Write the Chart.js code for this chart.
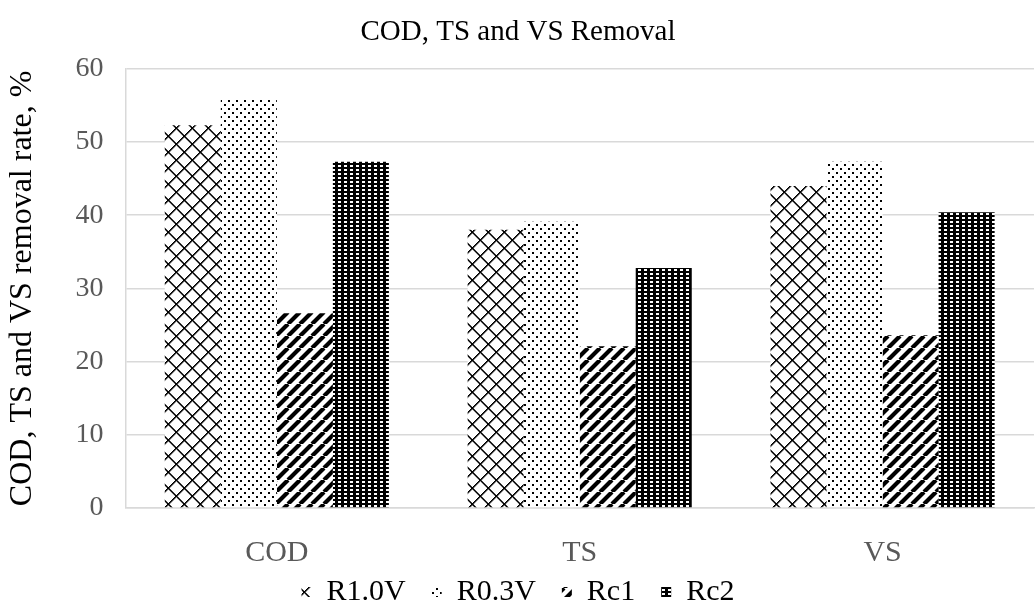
<!DOCTYPE html>
<html>
<head>
<meta charset="utf-8">
<script src="https://cdn.jsdelivr.net/npm/chart.js@4/dist/chart.umd.min.js"></script>
<style>
  html, body { margin: 0; padding: 0; background: #ffffff; }
  #wrap { width: 1035px; height: 611px; }
</style>
</head>
<body>
<div id="wrap"><canvas id="chart" width="1035" height="611"></canvas></div>
<script>
// Removal rates (%) for each reactor, by parameter
const categories = ['COD', 'TS', 'VS'];
const seriesNames = ['R1.0V', 'R0.3V', 'Rc1', 'Rc2'];
const r10v = [52.3, 38.0, 44.0];
const r03v = [56.0, 39.1, 47.3];
const rc1 = [26.6, 22.1, 23.6];
const rc2 = [47.3, 32.8, 40.4];
const yTicks = [0, 10, 20, 30, 40, 50, 60];

// Monochrome fill patterns
function tile(w, h, draw) {
  const c = document.createElement('canvas');
  c.width = w; c.height = h;
  const g = c.getContext('2d');
  draw(g, w, h);
  return g.createPattern(c, 'repeat');
}

const diamondFill = tile(16, 16, (g, w, h) => {
  g.fillStyle = '#fff'; g.fillRect(0, 0, w, h);
  g.fillStyle = '#000';
  for (let i = 0; i < 16; i++) {
    g.fillRect(i, i, 1.7, 1.4);
    g.fillRect(15 - i, i, 1.7, 1.4);
  }
});

const dotFill = tile(8, 8, (g, w, h) => {
  g.fillStyle = '#fff'; g.fillRect(0, 0, w, h);
  g.fillStyle = '#000';
  g.fillRect(0, 0, 2, 2);
  g.fillRect(4, 4, 2, 2);
});

const stripeFill = tile(12, 12, (g, w, h) => {
  g.fillStyle = '#fff'; g.fillRect(0, 0, w, h);
  g.strokeStyle = '#000';
  g.lineWidth = 4.2;
  g.beginPath();
  g.moveTo(-12, 12); g.lineTo(0, 0);
  g.moveTo(0, 12); g.lineTo(12, 0);
  g.moveTo(12, 12); g.lineTo(24, 0);
  g.stroke();
});

const gridFill = tile(6, 4, (g, w, h) => {
  g.fillStyle = '#000'; g.fillRect(0, 0, w, h);
  g.fillStyle = '#fff';
  g.fillRect(2, 1, 3, 2);
});

const fills = [diamondFill, dotFill, stripeFill, gridFill];
const values = [r10v, r03v, rc1, rc2];

const serif = "'Liberation Serif', 'Times New Roman', serif";

// Let the category labels run into the space beside the legend without being clipped
const labelRoom = {
  id: 'labelRoom',
  afterLayout(chart) {
    chart.scales.x.bottom = chart.height;
  }
};

new Chart(document.getElementById('chart'), {
  type: 'bar',
  data: {
    labels: categories,
    datasets: seriesNames.map((name, i) => ({
      label: name,
      data: values[i],
      backgroundColor: fills[i],
      borderWidth: 0,
      categoryPercentage: 0.74,
      barPercentage: 1.0
    }))
  },
  plugins: [labelRoom],
  options: {
    responsive: false,
    devicePixelRatio: 1,
    animation: false,
    layout: { padding: { left: 2, right: 1, top: 0, bottom: 0 } },
    plugins: {
      title: {
        display: true,
        text: 'COD, TS and VS Removal',
        color: '#000',
        font: { family: serif, size: 29, weight: 'normal', lineHeight: 1.2 },
        padding: { top: 15, bottom: 19 }
      },
      legend: {
        display: true,
        position: 'bottom',
        maxHeight: 60,
        labels: {
          color: '#000',
          font: { family: serif, size: 30 },
          boxWidth: 10,
          boxHeight: 10,
          padding: 26
        }
      },
      tooltip: { enabled: false }
    },
    scales: {
      x: {
        grid: { display: false, drawTicks: false },
        border: { display: true, color: '#d9d9d9', width: 1.5 },
        ticks: {
          color: '#595959',
          padding: 27,
          font: { family: serif, size: 30, lineHeight: 1.2 }
        },
        afterFit: (scale) => { scale.height = 43; }
      },
      y: {
        min: 0,
        max: 60,
        afterBuildTicks: (axis) => { axis.ticks = yTicks.map(v => ({ value: v })); },
        grid: { color: '#d9d9d9', lineWidth: 1.5, drawTicks: false },
        border: { display: true, color: '#d9d9d9', width: 1.5 },
        ticks: {
          color: '#595959',
          padding: 22,
          font: { family: serif, size: 28 }
        },
        title: {
          display: true,
          text: 'COD, TS and VS removal rate, %',
          color: '#000',
          font: { family: serif, size: 32, lineHeight: 1.2 },
          padding: { top: 1, bottom: 12 }
        }
      }
    }
  }
});
</script>
</body>
</html>
